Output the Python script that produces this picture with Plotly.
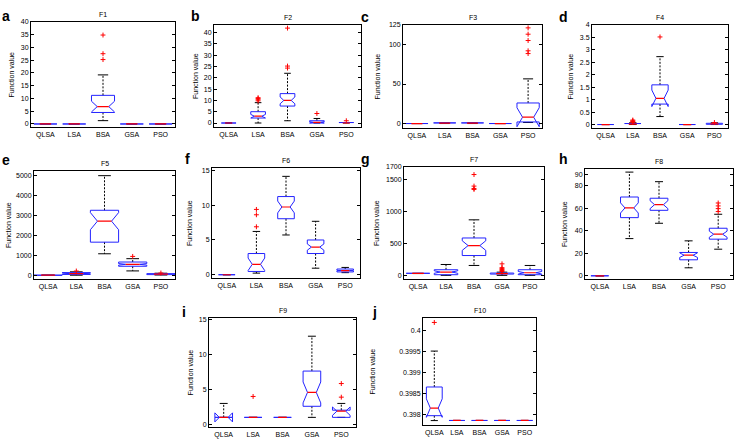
import plotly.graph_objects as go

# ---------------- data ----------------
CATEGORIES = ["QLSA", "LSA", "BSA", "GSA", "PSO"]
TITLES = ["F1", "F2", "F3", "F4", "F5", "F6", "F7", "F8", "F9", "F10"]
LETTERS = ["a", "b", "c", "d", "e", "f", "g", "h", "i", "j"]
Y_LABEL = "Function value"

# per panel (F1..F10), per algorithm (QLSA, LSA, BSA, GSA, PSO)
Q1 = [
    [0, 0, 4.5, 0, 0],
    [0, 2.2, 7.5, 0, 0],
    [0, 0.2, 0.2, 0, 2],
    [0, 0.01, 0.82, 0, 0.01],
    [0, 40, 1660, 450, 30],
    [0, 0.47, 8.06, 3.05, 0.4],
    [28, 10, 310, 20, 10],
    [0, 51.6, 58.1, 14.2, 32.5],
    [1, 1, 1, 2.59, 1],
    [0.397976, 0.397862, 0.397862, 0.397862, 0.397862],
]
MEDIAN = [
    [0, 0, 6.8, 0, 0],
    [0, 3, 10, 0.3, 0],
    [0, 0.5, 0.5, 0, 8],
    [0, 0.02, 1.05, 0, 0.03],
    [0, 80, 2715, 546, 55],
    [0, 1.5, 9.75, 3.98, 0.6],
    [30, 52, 466, 28, 41],
    [0, 60.2, 63.1, 18.3, 36.9],
    [1, 1, 1, 4.58, 1.89],
    [0.398157, 0.397862, 0.397862, 0.397862, 0.397862],
]
Q3 = [
    [0, 0, 11.2, 0, 0],
    [0, 5, 13, 1, 0.2],
    [0, 0.8, 0.8, 0, 26],
    [0, 0.04, 1.59, 0, 0.05],
    [0, 130, 3262, 662, 80],
    [0, 3.05, 11.25, 5.0, 0.82],
    [32, 88, 585, 36, 88],
    [0, 69.9, 68.8, 20.7, 42.2],
    [1, 1, 1, 7.64, 2.03],
    [0.398659, 0.397862, 0.397862, 0.397862, 0.397862],
]
NOTCH = [
    [0, 0, 2.1, 0, 0],
    [0, 0.8, 1.5, 0.3, 0],
    [0, 0, 0, 0, 12],
    [0, 0, 0.33, 0, 0],
    [0, 20, 430, 40, 10],
    [0, 0.9, 0.85, 0.45, 0.05],
    [0, 20, 75, 2, 20],
    [0, 4.5, 3.5, 2.0, 2.7],
    [0.65, 0, 0, 1.5, 0.6],
    [0.00022, 0, 0, 0, 0],
]
LOWER = [
    [0, 0, 1.3, 0, 0],
    [0, 0, 1, 0, 0],
    [0, 0, 0, 0, 1.3],
    [0, 0, 0.32, 0, 0],
    [0, 0, 1076, 215, 10],
    [0, 0.23, 5.72, 0.94, 0.3],
    [28, 0, 155, 0, 0],
    [0, 33, 46.6, 7.1, 23.6],
    [1, 1, 1, 1, 1],
    [0.397859, 0.397862, 0.397862, 0.397862, 0.397862],
]
UPPER = [
    [0, 0, 19.2, 0, 0],
    [0, 9, 22, 2, 0.2],
    [0, 1, 1, 0, 56.5],
    [0, 0.07, 2.72, 0, 0.07],
    [0, 170, 5000, 830, 100],
    [0, 6.23, 14.16, 7.69, 1.05],
    [32, 170, 869, 50, 155],
    [0, 92, 83.5, 31, 54.6],
    [3, 1, 1, 12.64, 3],
    [0.399514, 0.397862, 0.397862, 0.397862, 0.397862],
]
OUTLIERS = [
    [[], [], [25.2, 27.5, 34.8], [], []],
    [[], [9.8, 10.3, 10.8, 11.2], [24.3, 25.2, 42], [4.2], [1.0]],
    [[], [], [], [], [88.5, 92, 105, 113, 121]],
    [[], [0.09, 0.12, 0.15, 0.18], [3.51], [], [0.08]],
    [[], [210], [], [944], [110]],
    [[], [6.9, 8.63, 9.4], [], [], []],
    [[], [], [1345, 1360, 1397, 1578], [60, 75, 90, 105, 120, 180], []],
    [[], [], [], [], [57, 59.6, 62, 64.6]],
    [[], [4], [], [], [3.9, 5.85]],
    [[0.400196], [], [], [], []],
]
Y_TICKVALS = [
    [0, 5, 10, 15, 20, 25, 30, 35, 40],
    [0, 5, 10, 15, 20, 25, 30, 35, 40],
    [0, 50, 100, 125],
    [0, 0.5, 1, 1.5, 2, 2.5, 3, 3.5, 4],
    [0, 1000, 2000, 3000, 4000, 5000],
    [0, 5, 10, 15],
    [0, 500, 1000, 1500, 1700],
    [0, 20, 40, 60, 80, 90],
    [0, 5, 10, 15],
    [0.398, 0.3985, 0.399, 0.3995, 0.4],
]
Y_TICKTEXT = [
    ["0", "5", "10", "15", "20", "25", "30", "35", "40"],
    ["0", "5", "10", "15", "20", "25", "30", "35", "40"],
    ["0", "50", "100", "125"],
    ["0", "0.5", "1", "1.5", "2", "2.5", "3", "3.5", "4"],
    ["0", "1000", "2000", "3000", "4000", "5000"],
    ["0", "5", "10", "15"],
    ["0", "500", "1000", "1500", "1700"],
    ["0", "20", "40", "60", "80", "90"],
    ["0", "5", "10", "15"],
    ["0.398", "0.3985", "0.399", "0.3995", "0.4"],
]

# ---------------- layout / style ----------------
W, H = 737, 439
# plot-area boxes in pixels: (left, right, top, bottom)
BOXES = [
    (31, 175, 18, 125), (214, 361, 21, 125), (403, 542, 21, 126), (592, 728, 21, 126),
    (34, 175, 169, 279), (212, 360, 166, 278), (404, 544, 165, 279), (585, 733, 167, 279),
    (209, 356, 318, 429), (423, 536, 318, 427),
]
Y_RANGES = [
    [-1.3, 40], [-1.9, 43.5], [-6, 125], [-0.15, 4], [-200, 5250],
    [-0.5, 15.4], [-60, 1700], [-3, 95], [-0.4, 15.3], [0.39775, 0.40031],
]
HALF_W = [0.4, 0.25, 0.4, 0.3, 0.5, 0.28, 0.42, 0.3, 0.3, 0.35]
LETTER_POS = [(6, 12), (195, 12), (365, 13), (563, 13),
              (6, 158), (187, 157), (365, 157), (563, 157),
              (184, 312), (374, 312)]
YLABEL_X = [12, 195, 377, 570, 9, 190, 377, 565, 190, 372]

FONT = "Liberation Sans, Arial, sans-serif"
BLUE = "#2323ff"
RED = "#ff0000"

fig = go.Figure()
annotations = []

for k in range(10):
    xa, ya = f"x{k + 1}", f"y{k + 1}"
    w = HALF_W[k]
    bx, by, wx, wy, cx, cy, mx, my, ox, oy = ([] for _ in range(10))
    for i in range(5):
        x = i + 1
        q1, m, q3, n = Q1[k][i], MEDIAN[k][i], Q3[k][i], NOTCH[k][i]
        lo, hi = LOWER[k][i], UPPER[k][i]
        bx += [x - w, x + w, x + w, x + w / 2, x + w, x + w, x - w, x - w, x - w / 2, x - w, x - w, None]
        by += [q3, q3, m + n, m, m - n, q1, q1, m - n, m, m + n, q3, None]
        wx += [x, x, None, x, x, None]
        wy += [q3, hi, None, q1, lo, None]
        c = w * 0.45
        cx += [x - c, x + c, None, x - c, x + c, None]
        cy += [hi, hi, None, lo, lo, None]
        mx += [x - w / 2, x + w / 2, None]
        my += [m, m, None]
        for v in OUTLIERS[k][i]:
            ox.append(x)
            oy.append(v)
    fig.add_trace(go.Scatter(x=wx, y=wy, mode="lines", xaxis=xa, yaxis=ya,
                             line=dict(color="black", width=1, dash="2px,1.5px"),
                             hoverinfo="skip", showlegend=False))
    fig.add_trace(go.Scatter(x=cx, y=cy, mode="lines", xaxis=xa, yaxis=ya,
                             line=dict(color="black", width=1),
                             hoverinfo="skip", showlegend=False))
    fig.add_trace(go.Scatter(x=bx, y=by, mode="lines", xaxis=xa, yaxis=ya,
                             line=dict(color=BLUE, width=1),
                             hoverinfo="skip", showlegend=False))
    fig.add_trace(go.Scatter(x=mx, y=my, mode="lines", xaxis=xa, yaxis=ya,
                             line=dict(color=RED, width=1.2),
                             hoverinfo="skip", showlegend=False))
    if ox:
        fig.add_trace(go.Scatter(x=ox, y=oy, mode="markers", xaxis=xa, yaxis=ya,
                                 marker=dict(symbol="cross-thin", size=3.5,
                                             line=dict(color=RED, width=1)),
                                 hoverinfo="skip", showlegend=False))

    l, r, t, b = BOXES[k]
    fig.layout[f"xaxis{k + 1}"] = dict(
        domain=[l / W, r / W], anchor=ya, range=[0.5, 5.5],
        tickvals=[1, 2, 3, 4, 5], ticktext=CATEGORIES, ticks="",
        showline=True, mirror=True, linecolor="black", linewidth=1,
        showgrid=False, zeroline=False, fixedrange=True,
        tickfont=dict(family=FONT, size=7, color="black"))
    fig.layout[f"yaxis{k + 1}"] = dict(
        domain=[1 - b / H, 1 - t / H], anchor=xa, range=Y_RANGES[k],
        tickvals=Y_TICKVALS[k], ticktext=Y_TICKTEXT[k],
        ticks="inside", ticklen=3, tickcolor="black",
        showline=True, mirror="ticks", linecolor="black", linewidth=1,
        showgrid=False, zeroline=False, fixedrange=True,
        tickfont=dict(family=FONT, size=7, color="black"))

    annotations.append(dict(text=TITLES[k], x=(l + r) / 2 / W, y=1 - (t - 7) / H,
                            xref="paper", yref="paper", showarrow=False,
                            xanchor="center", yanchor="middle",
                            font=dict(family=FONT, size=7, color="black")))
    lx, ly = LETTER_POS[k]
    annotations.append(dict(text=f"<b>{LETTERS[k]}</b>", x=lx / W, y=1 - ly / H,
                            xref="paper", yref="paper", showarrow=False,
                            xanchor="center", yanchor="middle",
                            font=dict(family=FONT, size=14, color="black")))
    annotations.append(dict(text=Y_LABEL, x=YLABEL_X[k] / W, y=1 - (t + b) / 2 / H,
                            xref="paper", yref="paper", showarrow=False,
                            textangle=-90, xanchor="center", yanchor="middle",
                            font=dict(family=FONT, size=7, color="black")))

fig.update_layout(
    width=W, height=H, margin=dict(l=0, r=0, t=0, b=0),
    paper_bgcolor="white", plot_bgcolor="white",
    annotations=annotations, showlegend=False,
)
fig.write_html("out.html")
